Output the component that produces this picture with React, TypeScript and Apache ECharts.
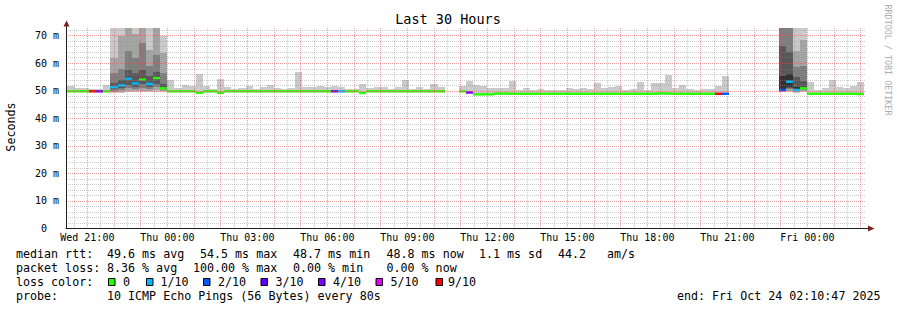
import React, { useEffect, useRef } from "react";
import * as echarts from "echarts";

// ---- time base: 16-minute RRD slots counted from Wed 00:00 ----
const SLOT_MINUTES = 16;
const FIRST_SLOT = 75;
const X_START_HOURS = 20.2;
const X_END_HOURS = 50.2;
const Y_MAX = 72.8;

// median RTT per slot (ms), null = no data
const medianRtt: (number | null)[] = [
  49.8, 49.8, 49.8, 49.8, 49.8, 49.8, 49.8, 51.3, 52.0, 54.4,
  52.7, 54.1, 52.5, 54.6, 50.9, 49.8, 49.8, 49.8, 49.8, 49.3,
  49.8, 49.8, 49.3, 49.8, 49.8, 49.8, 49.8, 49.8, 49.8, 49.8,
  49.8, 49.8, 49.8, 49.8, 49.8, 49.8, 49.8, 49.8, 49.8, 49.8,
  49.8, 49.8, 49.2, 49.8, 49.8, 49.8, 49.8, 49.8, 49.8, 49.8,
  49.8, 49.8, 49.8, 49.8, null, null, 49.8, 49.4, 48.7, 48.7,
  48.7, 49.0, 49.0, 48.9, 48.9, 48.9, 48.9, 48.9, 48.9, 48.9,
  48.9, 48.9, 48.9, 48.9, 48.9, 48.9, 48.9, 48.9, 48.9, 48.9,
  48.9, 48.9, 48.9, 48.9, 49.1, 49.0, 48.9, 48.9, 48.9, 48.9,
  48.9, 48.9, 48.9, 48.9, null, null, null, null, null, null,
  null, 50.3, 53.3, 50.3, 50.9, 48.9, 48.9, 48.9, 48.9, 48.9,
  48.9, 48.9, 48.8,
];

// lost pings out of 10 per slot
const lossCount: number[] = [
  0, 0, 0, 0, 9, 3, 0, 1, 1, 1,
  1, 0, 1, 0, 0, 0, 0, 0, 0, 0,
  0, 0, 0, 0, 0, 0, 0, 0, 0, 0,
  0, 0, 0, 0, 0, 0, 0, 0, 4, 1,
  0, 0, 0, 0, 0, 0, 0, 0, 0, 0,
  0, 0, 0, 0, 0, 0, 0, 4, 0, 0,
  0, 0, 0, 0, 0, 0, 0, 0, 0, 0,
  0, 0, 0, 0, 0, 0, 0, 0, 0, 0,
  0, 0, 0, 0, 0, 0, 0, 0, 0, 0,
  0, 0, 9, 2, 0, 0, 0, 0, 0, 0,
  0, 2, 1, 1, 0, 0, 0, 0, 0, 0,
  0, 0, 0,
];

// highest ping per quiet slot (ms)
const smokeTop: (number | null)[] = [
  51.8, 51.8, 51.0, 51.0, 50.7, 50.7, 52.0, null, null, null,
  null, null, null, null, null, 54.0, 50.9, 52.1, 51.8, 56.1,
  51.8, 50.6, 54.3, 51.3, 50.6, 50.9, 51.6, 50.7, 51.4, 52.1,
  50.9, 50.7, 50.9, 57.0, 51.4, 51.2, 51.9, 51.2, 51.9, 51.2,
  50.7, 50.7, 52.5, 50.9, 51.4, 51.4, 50.7, 51.2, 54.0, 50.7,
  51.2, 50.7, 52.5, 51.4, null, null, 51.8, 53.6, 52.1, 51.8,
  50.9, 50.9, 50.9, 53.6, 50.2, 50.9, 50.2, 50.7, 50.3, 50.3,
  50.3, 50.9, 50.5, 50.9, 50.5, 53.0, 50.9, 51.5, 51.8, 50.3,
  50.5, 53.3, 50.3, 52.7, 52.7, 55.8, 50.9, 52.1, 50.5, 50.3,
  50.7, 50.5, 51.8, 55.4, null, null, null, null, null, null,
  null, null, null, null, null, 53.3, 50.3, 50.9, 54.0, 51.5,
  50.9, 51.8, 53.3,
];

// lowest ping per quiet slot (ms)
const smokeBottom: (number | null)[] = [
  49.4, 49.4, 49.4, 49.4, 49.4, 49.4, 49.4, null, null, null,
  null, null, null, null, null, 49.4, 49.4, 49.4, 49.4, 48.9,
  49.4, 49.4, 48.9, 49.4, 49.4, 49.4, 49.4, 49.4, 49.4, 49.4,
  49.4, 49.4, 49.4, 49.4, 49.4, 49.4, 49.4, 49.4, 49.4, 49.4,
  49.4, 49.4, 48.8, 49.4, 49.4, 49.4, 49.4, 49.4, 49.4, 49.4,
  49.4, 49.4, 49.4, 49.4, null, null, 49.4, 49.0, 48.4, 48.4,
  48.4, 48.6, 48.6, 48.5, 48.5, 48.5, 48.5, 48.5, 48.5, 48.5,
  48.5, 48.5, 48.5, 48.5, 48.5, 48.5, 48.5, 48.5, 48.5, 48.5,
  48.5, 48.5, 48.5, 48.5, 48.6, 48.6, 48.5, 48.5, 48.5, 48.5,
  48.5, 48.5, 48.5, 48.5, null, null, null, null, null, null,
  null, null, null, null, null, 48.5, 48.5, 48.5, 48.5, 48.5,
  48.5, 48.5, 48.4,
];

// slots with wide spread: [slot, ping1..ping10] (sorted, ms)
const stormPings: number[][] = [
  [82, 49.3, 49.6, 50.0, 50.5, 51.0, 51.6, 52.7, 56.6, 61.9, 72.8],
  [83, 49.3, 49.7, 50.2, 51.0, 51.7, 52.3, 54.0, 57.9, 69.8, 72.8],
  [84, 49.5, 50.0, 51.0, 52.0, 53.8, 55.0, 57.6, 64.5, 72.8, 72.8],
  [85, 49.5, 50.0, 50.6, 51.5, 52.3, 53.1, 56.5, 62.0, 70.5, 72.8],
  [86, 49.5, 50.1, 51.0, 52.5, 53.6, 54.6, 57.5, 67.4, 72.8, 72.8],
  [87, 49.5, 50.0, 50.7, 51.5, 52.2, 52.8, 55.5, 58.9, 64.9, 72.8],
  [88, 49.6, 50.2, 51.2, 52.6, 54.2, 55.0, 57.0, 63.1, 72.8, 72.8],
  [89, 49.5, 49.8, 50.2, 50.6, 50.7, 51.1, 52.5, 56.4, 63.7, 70.0],
  [176, 49.5, 49.7, 49.9, 50.0, 49.9, 55.2, 66.1, 72.8, 72.8, 72.8],
  [177, 49.6, 50.0, 50.5, 51.0, 51.5, 56.0, 64.2, 72.8, 72.8, 72.8],
  [178, 49.3, 49.6, 49.9, 50.0, 50.1, 51.5, 55.0, 58.5, 64.3, 72.8],
  [179, 49.6, 49.9, 50.2, 50.5, 50.7, 51.5, 53.5, 59.0, 68.5, 72.8],
];

const dayNames = ["Wed", "Thu", "Fri"];
const xLabelHours = [21, 24, 27, 30, 33, 36, 39, 42, 45, 48];
const yLabelValues = [0, 10, 20, 30, 40, 50, 60, 70];

const lossSteps = [0, 1, 2, 3, 4, 5, 9];
const lossLabels = ["0", "1/10", "2/10", "3/10", "4/10", "5/10", "9/10"];
const lossColors = ["#26ff00", "#00b8ff", "#0059ff", "#5e00ff", "#7e00ff", "#dd00ff", "#ff0000"];
const smokeShades = ["#cacaca", "#a4a4a4", "#7e7e7e", "#585858", "#323232"];

const titleText = "Last 30 Hours";
const yAxisTitle = "Seconds";
const creditText = "RRDTOOL / TOBI OETIKER";
const rttStats = ["median rtt:", "49.6 ms avg", "54.5 ms max", "48.7 ms min", "48.8 ms now", "1.1 ms sd", "44.2", "am/s"];
const lossStats = ["packet loss:", "8.36 % avg", "100.00 % max", "0.00 % min", "0.00 % now"];
const lossColorTitle = "loss color:";
const probeTexts = ["probe:", "10 ICMP Echo Pings (56 Bytes) every 80s"];
const endText = "end: Fri Oct 24 02:10:47 2025";

const MONO = "'DejaVu Sans Mono', monospace";

function colorForLoss(n: number): string {
  let idx = 0;
  for (let i = 0; i < lossSteps.length; i++) if (n >= lossSteps[i]) idx = i;
  return lossColors[idx];
}

function slotStart(i: number) {
  return ((FIRST_SLOT + i) * SLOT_MINUTES) / 60;
}

export default function App() {
  const ref = useRef<HTMLDivElement>(null);

  useEffect(() => {
    if (!ref.current) return;
    const chart = echarts.init(ref.current, undefined, { renderer: "svg" });

    const smokeRows: number[][] = [];
    const medianRows: number[][] = [];
    const stormBySlot: Record<number, number[]> = {};
    stormPings.forEach((r) => (stormBySlot[r[0]] = r.slice(1)));

    for (let i = 0; i < medianRtt.length; i++) {
      const t0 = slotStart(i);
      const t1 = slotStart(i + 1);
      const slot = FIRST_SLOT + i;
      const storm = stormBySlot[slot];
      if (storm) {
        for (let b = 0; b < 5; b++) smokeRows.push([t0, t1, storm[b], storm[9 - b], b]);
      } else if (smokeTop[i] != null && smokeBottom[i] != null) {
        smokeRows.push([t0, t1, smokeBottom[i] as number, smokeTop[i] as number, 0]);
      }
      if (medianRtt[i] != null) medianRows.push([t0, t1, medianRtt[i] as number, lossCount[i]]);
    }

    const hourTicks: number[] = [];
    const halfHourTicks: number[] = [];
    for (let h = Math.ceil(X_START_HOURS); h <= X_END_HOURS; h++) hourTicks.push(h);
    for (let h = Math.ceil(X_START_HOURS - 0.5) + 0.5; h <= X_END_HOURS; h++) halfHourTicks.push(h);

    const textEl = (text: string, x: number, y: number, size: number, align = "left", extra: any = {}) => ({
      type: "text",
      x,
      y,
      silent: true,
      z: 20,
      ...extra,
      style: {
        text,
        fontFamily: MONO,
        fontSize: size,
        fill: extra.fill || "#000",
        textAlign: align,
        align,
        textVerticalAlign: "middle",
        verticalAlign: "middle",
      },
    });

    const graphics: any[] = [];
    graphics.push(textEl(titleText, 448, 19, 13.5, "center"));
    graphics.push(textEl(yAxisTitle, 11, 127, 11.7, "center", { rotation: Math.PI / 2 }));
    graphics.push({
      ...textEl(creditText, 887.5, 60, 8.4, "center", { rotation: -Math.PI / 2 }),
      style: {
        text: creditText, fontFamily: MONO, fontSize: 8.4, fill: "#acacac",
        textAlign: "center", align: "center", textVerticalAlign: "middle", verticalAlign: "middle",
      },
    });
    const rttX = [16, 107, 200, 293, 386.5, 479, 558, 607];
    rttStats.forEach((t, i) => graphics.push(textEl(t, rttX[i], 254, 11.66)));
    const lossX = [16, 107, 193, 293, 386.5];
    lossStats.forEach((t, i) => graphics.push(textEl(t, lossX[i], 268.3, 11.66)));
    graphics.push(textEl(lossColorTitle, 16, 282.3, 11.66));
    const sqX = [108.5, 146.5, 203.5, 261, 318.5, 376, 436];
    const lblX = [123, 160.5, 218, 275.5, 333, 390.5, 448];
    lossLabels.forEach((t, i) => {
      graphics.push({
        type: "rect",
        silent: true,
        z: 20,
        shape: { x: sqX[i], y: 278.5, width: 6.5, height: 7 },
        style: { fill: lossColors[i], stroke: "#000", lineWidth: 1 },
      });
      graphics.push(textEl(t, lblX[i], 282.3, 11.66));
    });
    graphics.push(textEl(probeTexts[0], 16, 296, 11.66));
    graphics.push(textEl(probeTexts[1], 107, 296, 11.66));
    graphics.push(textEl(endText, 880.5, 296, 11.66, "right"));

    // axis extensions and arrows
    graphics.push({ type: "line", silent: true, z: 20, shape: { x1: 66.5, y1: 29, x2: 66.5, y2: 24 }, style: { stroke: "#1f1f1f", lineWidth: 1 } });
    graphics.push({ type: "polygon", silent: true, z: 21, shape: { points: [[63.5, 26.5], [69.5, 26.5], [66.5, 20.5]] }, style: { fill: "#801f1f" } });
    graphics.push({ type: "line", silent: true, z: 20, shape: { x1: 865, y1: 228.5, x2: 870, y2: 228.5 }, style: { stroke: "#1f1f1f", lineWidth: 1 } });
    graphics.push({ type: "polygon", silent: true, z: 21, shape: { points: [[868, 225.5], [868, 231.5], [874.5, 228.5]] }, style: { fill: "#801f1f" } });

    const majorGrid = { color: "rgba(222,79,79,0.55)", width: 1, type: [1, 1] as any };
    const minorGrid = { color: "rgba(143,143,143,0.45)", width: 1, type: [1, 1] as any };

    const option: any = {
      animation: false,
      backgroundColor: "#ffffff",
      grid: { left: 66, width: 800, top: 28, bottom: 81.5, containLabel: false, outerBoundsMode: "none" },
      xAxis: [
        {
          type: "value",
          min: X_START_HOURS,
          max: X_END_HOURS,
          z: 6,
          axisLine: { show: true, lineStyle: { color: "#1f1f1f", width: 1 } },
          axisTick: { show: false, customValues: hourTicks },
          axisLabel: {
            customValues: xLabelHours,
            margin: 4,
            color: "#000",
            fontFamily: MONO,
            fontSize: 10,
            formatter: (v: number) => {
              const h = Math.round(v);
              return `${dayNames[Math.floor(h / 24)]} ${String(h % 24).padStart(2, "0")}:00`;
            },
          },
          splitLine: { show: true, lineStyle: majorGrid },
        },
        {
          type: "value",
          min: X_START_HOURS,
          max: X_END_HOURS,
          z: 5,
          position: "bottom",
          axisLine: { show: false },
          axisTick: { show: false, customValues: halfHourTicks },
          axisLabel: { show: false },
          splitLine: { show: true, lineStyle: minorGrid },
        },
      ],
      yAxis: {
        type: "value",
        min: 0,
        max: Y_MAX,
        interval: 10,
        z: 6,
        axisLine: { show: true, lineStyle: { color: "#1f1f1f", width: 1 } },
        axisTick: { show: false, customValues: yLabelValues },
        minorTick: { show: false, splitNumber: 5 },
        axisLabel: {
          customValues: yLabelValues,
          margin: 7,
          color: "#000",
          fontFamily: MONO,
          fontSize: 10,
          formatter: (v: number) => (v === 0 ? "{z|0}" : `${v} m`),
          rich: { z: { fontFamily: MONO, fontSize: 10, color: "#000", padding: [0, 12, 0, 0] } },
        },
        splitLine: { show: true, lineStyle: majorGrid },
        minorSplitLine: { show: true, lineStyle: minorGrid },
      },
      series: [
        {
          type: "custom",
          name: "smoke",
          xAxisIndex: 0,
          yAxisIndex: 0,
          z: 2,
          silent: true,
          data: smokeRows,
          encode: { x: [0, 1], y: [2, 3] },
          renderItem: (params: any, api: any) => {
            const a = api.coord([api.value(0), api.value(3)]);
            const b = api.coord([api.value(1), api.value(2)]);
            const cs = params.coordSys;
            const x0 = Math.max(Math.round(a[0]), cs.x);
            const x1 = Math.min(Math.round(b[0]), cs.x + cs.width);
            const y0 = Math.max(Math.round(a[1]), cs.y);
            const y1 = Math.min(Math.round(b[1]), cs.y + cs.height);
            if (x1 <= x0 || y1 <= y0) return null;
            return {
              type: "rect",
              shape: { x: x0, y: y0, width: x1 - x0, height: y1 - y0 },
              style: { fill: smokeShades[api.value(4)] },
            };
          },
        },
        {
          type: "custom",
          name: "median",
          xAxisIndex: 0,
          yAxisIndex: 0,
          z: 3,
          silent: true,
          data: medianRows,
          encode: { x: [0, 1], y: 2 },
          renderItem: (params: any, api: any) => {
            const a = api.coord([api.value(0), api.value(2)]);
            const b = api.coord([api.value(1), api.value(2)]);
            const cs = params.coordSys;
            const x0 = Math.max(Math.round(a[0]), cs.x);
            const x1 = Math.min(Math.round(b[0]), cs.x + cs.width);
            if (x1 <= x0) return null;
            return {
              type: "rect",
              shape: { x: x0, y: a[1] - 1.2, width: x1 - x0, height: 2.4 },
              style: { fill: colorForLoss(api.value(3)) },
            };
          },
        },
      ],
      graphic: graphics,
    };

    chart.setOption(option);
    return () => chart.dispose();
  }, []);

  return (
    <div
      ref={ref}
      style={{ position: "fixed", left: 0, top: 0, width: 897, height: 310, background: "#fff" }}
    />
  );
}
